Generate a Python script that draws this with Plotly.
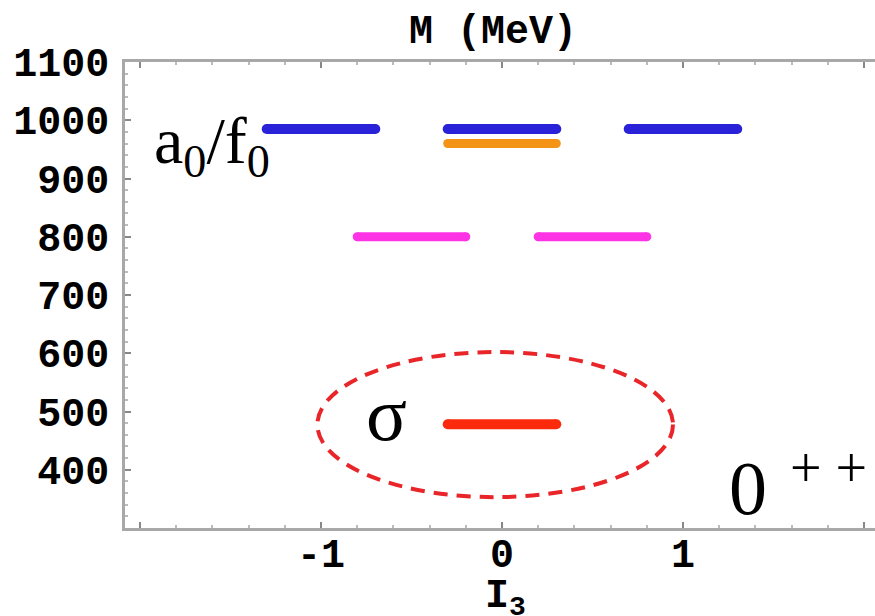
import plotly.graph_objects as go

# Scalar (0++) meson levels: isospin projection I3 and mass M in MeV
a0_f0_I3 = [-1, 0, 1]
a0_f0_mass = [985, 985, 985]
f0_I3 = [0]
f0_mass = [960]
kappa_I3 = [-0.5, 0.5]
kappa_mass = [800, 800]
sigma_I3 = [0]
sigma_mass = [478]

# each level is drawn as a short horizontal bar around its I3 value
bar_half_width = 0.3

y_tick_vals = [400, 500, 600, 700, 800, 900, 1000, 1100]
x_tick_vals = [-2, -1, 0, 1, 2]
x_tick_text = ["", "-1", "0", "1", ""]


def level_segments(centers, masses):
    xs, ys = [], []
    for c, m in zip(centers, masses):
        xs += [c - bar_half_width, c + bar_half_width, None]
        ys += [m, m, None]
    return xs, ys


levels = [
    (a0_f0_I3, a0_f0_mass, "#2a22d8", 10),
    (f0_I3, f0_mass, "#f39416", 9),
    (kappa_I3, kappa_mass, "#ff33e6", 9),
    (sigma_I3, sigma_mass, "#fb2a0c", 10),
]

fig = go.Figure()
for centers, masses, color, width in levels:
    xs, ys = level_segments(centers, masses)
    # round end caps come from circle markers at the segment ends
    fig.add_trace(go.Scatter(
        x=xs, y=ys, mode="lines+markers",
        line=dict(color=color, width=width),
        marker=dict(color=color, size=width, line=dict(width=0)),
        hoverinfo="skip", showlegend=False,
    ))

# dashed ellipse around the sigma
fig.add_shape(
    type="circle", xref="x", yref="y",
    x0=-1.02, x1=0.945, y0=353, y1=602,
    line=dict(color="#e8262a", width=4, dash="14px,9px"),
    layer="below",
)

serif = "Liberation Serif"
mono = "Liberation Mono"

fig.add_annotation(
    x=-1.934, y=957, xref="x", yref="y", xanchor="left", yanchor="middle",
    text="a<sub>0</sub>/f<sub>0</sub>", showarrow=False,
    font=dict(family=serif, size=66, color="black"),
)
fig.add_annotation(
    x=-0.64, y=496, xref="x", yref="y", xanchor="center", yanchor="middle",
    text="σ", showarrow=False,
    font=dict(family=serif, size=76, color="black"),
)
fig.add_annotation(
    x=1.243, y=369, xref="x", yref="y", xanchor="left", yanchor="middle",
    text="0", showarrow=False,
    font=dict(family=serif, size=76, color="black"),
)
fig.add_annotation(
    x=1.58, y=403, xref="x", yref="y", xanchor="left", yanchor="middle",
    text="+ +", showarrow=False,
    font=dict(family=serif, size=56, color="black"),
)
fig.add_annotation(
    x=-0.05, y=1, xref="x", yref="paper", xanchor="center", yanchor="middle",
    yshift=30, text="M (MeV)", showarrow=False,
    font=dict(family=mono, size=40, color="black", weight="bold"),
)
fig.add_annotation(
    x=0.02, y=0, xref="x", yref="paper", xanchor="center", yanchor="top",
    yshift=-44, text="I<sub>3</sub>", showarrow=False,
    font=dict(family=mono, size=40, color="black", weight="bold"),
)

axis_grey = "#a8a8a8"

fig.update_xaxes(
    range=[-2.083, 2.061], showgrid=False, zeroline=False,
    showline=True, linecolor=axis_grey, linewidth=2.5, mirror="ticks",
    ticks="inside", ticklen=6, tickwidth=1.5, tickcolor="#888888",
    tickvals=x_tick_vals, ticktext=x_tick_text, ticklabelstandoff=-12,
    tickfont=dict(family=mono, size=40, color="black", weight="bold"),
    minor=dict(ticks="inside", ticklen=3, tickcolor="#bbbbbb", dtick=0.2),
)
fig.update_yaxes(
    range=[300, 1100], showgrid=False, zeroline=False,
    showline=True, linecolor=axis_grey, linewidth=2.5, mirror=False,
    ticks="inside", ticklen=6, tickwidth=1.5, tickcolor="#888888",
    tickvals=y_tick_vals, ticklabelstandoff=5,
    tickfont=dict(family=mono, size=40, color="black", weight="bold"),
    minor=dict(ticks="inside", ticklen=3, tickcolor="#bbbbbb", dtick=20),
)

fig.update_layout(
    width=875, height=616,
    margin=dict(l=125, r=0, t=62, b=88),
    plot_bgcolor="white", paper_bgcolor="white",
)

fig.write_html("out.html")
